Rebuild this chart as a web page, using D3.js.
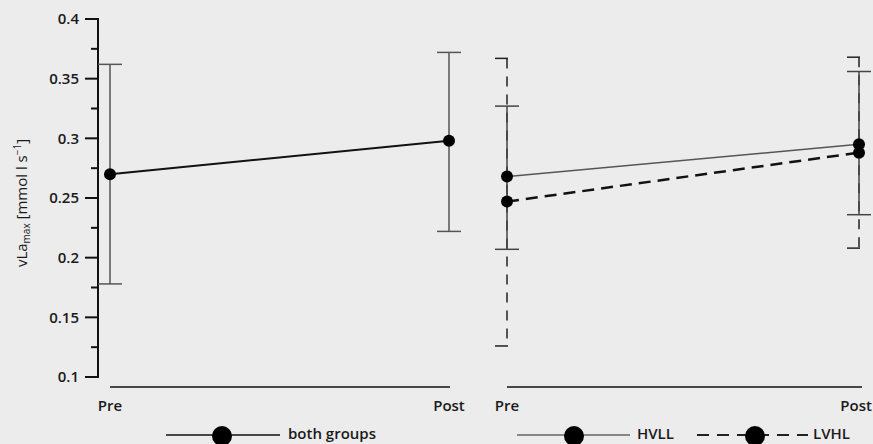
<!DOCTYPE html>
<html>
<head>
<meta charset="utf-8">
<script src="https://cdn.jsdelivr.net/npm/d3@7"></script>
<style>
  body { margin: 0; background: #ececec; }
  svg { display: block; font-family: "Open Sans", sans-serif; }
</style>
</head>
<body>
<svg id="chart"></svg>
<script>
// data
const times = ["Pre", "Post"];
const yTicks = [0.1, 0.15, 0.2, 0.25, 0.3, 0.35, 0.4];

// left panel: both groups (mean, lower, upper)
const bothMean = [0.270, 0.298];
const bothLow = [0.178, 0.222];
const bothHigh = [0.362, 0.372];

// right panel
const hvllMean = [0.268, 0.295];
const hvllLow = [0.207, 0.236];
const hvllHigh = [0.327, 0.356];

const lvhlMean = [0.247, 0.288];
const lvhlLow = [0.126, 0.208];
const lvhlHigh = [0.367, 0.368];

const width = 873;
const height = 444;
const fs = 15;

const svg = d3.select("#chart")
    .attr("width", width)
    .attr("height", height);

const y = d3.scaleLinear().domain([0.1, 0.4]).range([377, 19]);
const xLeft = d3.scalePoint().domain(times).range([110, 449]);
const xRight = d3.scalePoint().domain(times).range([507, 859]);

// y axis
const yAxis = svg.append("g").attr("transform", "translate(98,0)");
yAxis.append("line")
    .attr("x1", 0).attr("x2", 0)
    .attr("y1", y(0.4) - 1).attr("y2", y(0.1) + 1)
    .attr("stroke", "#111").attr("stroke-width", 2);
yAxis.selectAll(".major")
    .data(yTicks)
    .join("line")
    .attr("x1", -13).attr("x2", 0)
    .attr("y1", d => y(d)).attr("y2", d => y(d))
    .attr("stroke", "#111").attr("stroke-width", 2);
yAxis.selectAll(".minor")
    .data(d3.pairs(yTicks).map(p => (p[0] + p[1]) / 2))
    .join("line")
    .attr("x1", -7).attr("x2", 0)
    .attr("y1", d => y(d)).attr("y2", d => y(d))
    .attr("stroke", "#111").attr("stroke-width", 2);
yAxis.selectAll("text")
    .data(yTicks)
    .join("text")
    .attr("x", -19)
    .attr("y", d => y(d))
    .attr("dy", "0.35em")
    .attr("text-anchor", "end")
    .attr("font-size", fs)
    .attr("font-weight", 600)
    .attr("fill", "#1a1a1a")
    .text(d => String(d));

// y label
const yl = svg.append("text")
    .attr("transform", "translate(27,203) rotate(-90)")
    .attr("text-anchor", "middle")
    .attr("font-size", fs)
    .attr("fill", "#1a1a1a");
yl.append("tspan").text("vLa");
yl.append("tspan").attr("font-size", 10).attr("dy", 3).text("max");
yl.append("tspan").attr("dy", -3).text(" [mmol l s");
yl.append("tspan").attr("font-size", 10).attr("dy", -6).text("−1");
yl.append("tspan").attr("dy", 6).text("]");

// x axes
function xAxis(x, x1, x2, maxX) {
    const g = svg.append("g");
    g.append("line")
        .attr("x1", x1).attr("x2", x2)
        .attr("y1", 387).attr("y2", 387)
        .attr("stroke", "#111").attr("stroke-width", 1.3);
    g.selectAll("text")
        .data(times)
        .join("text")
        .attr("x", d => x(d))
        .attr("y", 411)
        .attr("text-anchor", "middle")
        .attr("font-size", fs)
        .attr("font-weight", 600)
        .attr("fill", "#1a1a1a")
        .text(d => d)
        .each(function() {
            // keep the label inside the picture
            const b = this.getBBox();
            if (b.x + b.width > maxX) {
                d3.select(this).attr("x", +d3.select(this).attr("x") - (b.x + b.width - maxX));
            }
        });
}
xAxis(xLeft, 110, 450, width - 1);
xAxis(xRight, 507, 862, width - 1);

// error bars
function errorBars(x, low, high, opts) {
    const g = svg.append("g");
    const cw = 12;
    times.forEach((t, i) => {
        const cx = x(t);
        g.append("line")
            .attr("x1", cx).attr("x2", cx)
            .attr("y1", y(high[i])).attr("y2", y(low[i]))
            .attr("stroke", opts.color).attr("stroke-width", opts.width)
            .attr("stroke-dasharray", opts.dash || null);
        [high[i], low[i]].forEach(v => {
            g.append("line")
                .attr("x1", cx - cw).attr("x2", opts.half ? cx + 1 : cx + cw)
                .attr("y1", y(v)).attr("y2", y(v))
                .attr("stroke", opts.color).attr("stroke-width", opts.width);
        });
    });
}

function series(x, mean, opts) {
    const line = d3.line().x((d, i) => x(times[i])).y(d => y(d));
    svg.append("path")
        .datum(mean)
        .attr("d", line)
        .attr("fill", "none")
        .attr("stroke", opts.color)
        .attr("stroke-width", opts.width)
        .attr("stroke-dasharray", opts.dash || null);
    svg.append("g").selectAll("circle")
        .data(mean)
        .join("circle")
        .attr("cx", (d, i) => x(times[i]))
        .attr("cy", d => y(d))
        .attr("r", 6)
        .attr("fill", "#000");
}

// left panel
errorBars(xLeft, bothLow, bothHigh, { color: "#555", width: 1.5 });
series(xLeft, bothMean, { color: "#111", width: 2 });

// right panel
errorBars(xRight, lvhlLow, lvhlHigh, { color: "#222", width: 1.5, dash: "10,8", half: true });
errorBars(xRight, hvllLow, hvllHigh, { color: "#444", width: 1.5 });
series(xRight, hvllMean, { color: "#555", width: 1.5 });
series(xRight, lvhlMean, { color: "#111", width: 2.5, dash: "12,7" });

// legend
function legendItem(x1, x2, cx, label, tx, opts) {
    const g = svg.append("g");
    g.append("line")
        .attr("x1", x1).attr("x2", x2)
        .attr("y1", 435).attr("y2", 435)
        .attr("stroke", opts.color).attr("stroke-width", opts.width)
        .attr("stroke-dasharray", opts.dash || null);
    g.append("circle")
        .attr("cx", cx).attr("cy", 436).attr("r", 10).attr("fill", "#000");
    g.append("text")
        .attr("x", tx).attr("y", 439)
        .attr("font-size", fs)
        .attr("font-weight", 600)
        .attr("fill", "#1a1a1a")
        .text(label);
}
legendItem(166, 280, 222, "both groups", 288, { color: "#111", width: 1.5 });
legendItem(517, 630, 574, "HVLL", 637, { color: "#666", width: 1.5 });
legendItem(697, 808, 755, "LVHL", 813, { color: "#222", width: 2, dash: "12,8" });
</script>
</body>
</html>
